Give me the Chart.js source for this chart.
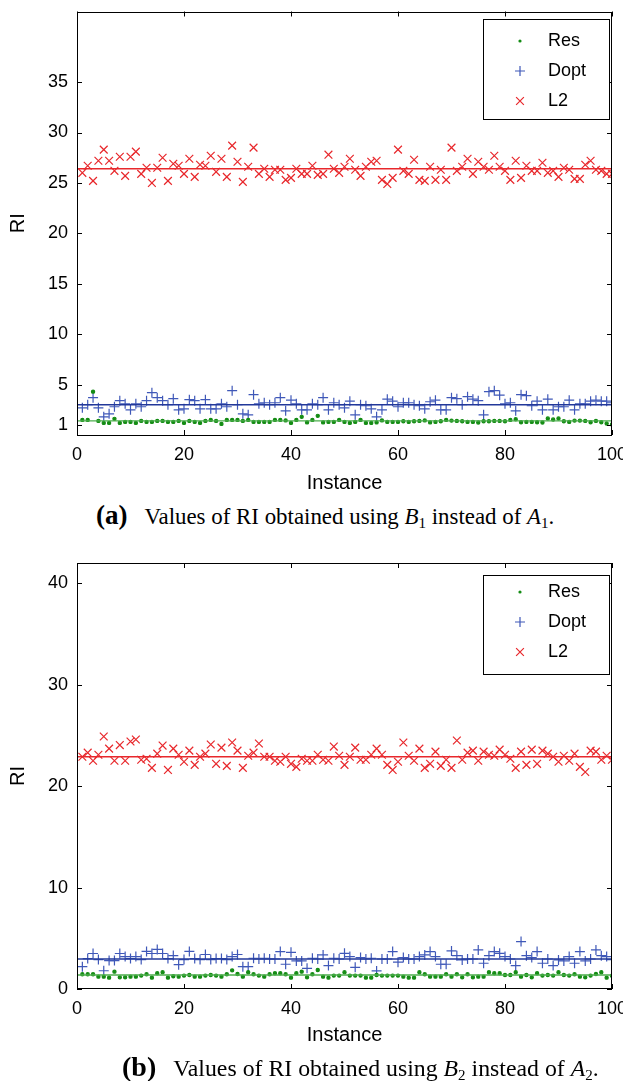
<!DOCTYPE html>
<html>
<head>
<meta charset="utf-8">
<script src="https://cdn.jsdelivr.net/npm/chart.js@4.4.1/dist/chart.umd.min.js"></script>
<style>
    html, body { margin: 0; padding: 0; background: #fff; overflow: hidden; }
    body { width: 623px; height: 1081px; position: relative; }
    .panel { position: absolute; left: 0; width: 640px; height: 500px; }
    .caption {
        position: absolute;
        font-family: "Liberation Serif", "Times New Roman", serif;
        line-height: 26px;
        color: #000;
        white-space: nowrap;
    }
    .caption b { margin-right: 17px; }
    .caption sub { font-size: 15px; vertical-align: -4px; line-height: 0; }
</style>
</head>
<body>
<div class="panel" style="top:0"><canvas id="chartA"></canvas></div>
<div class="caption" style="left:96px; top:502px; font-size:22.9px"><b style="font-size:27px">(a)</b>Values of RI obtained using <i>B</i><sub>1</sub> instead of <i>A</i><sub>1</sub>.</div>
<div class="panel" style="top:552px"><canvas id="chartB"></canvas></div>
<div class="caption" style="left:122px; top:1054px; font-size:23.8px"><b style="font-size:28px">(b)</b>Values of RI obtained using <i>B</i><sub>2</sub> instead of <i>A</i><sub>2</sub>.</div>

<script>
// Instances 1..100 on the x axis
const instances = Array.from({ length: 100 }, (_, i) => i + 1);
const seriesNames = ['Res', 'Dopt', 'L2'];
const xTicks = [0, 20, 40, 60, 80, 100];

// Panel (a): B1 instead of A1
const resA = [1.5, 1.5, 4.3, 1.4, 1.2, 1.2, 1.6, 1.2, 1.3, 1.3, 1.2, 1.4, 1.3, 1.3, 1.4, 1.4, 1.3, 1.3, 1.4, 1.2,
    1.4, 1.3, 1.2, 1.4, 1.5, 1.4, 1.1, 1.5, 1.5, 1.5, 1.4, 1.5, 1.3, 1.3, 1.3, 1.3, 1.5, 1.5, 1.45, 1.2,
    1.5, 1.8, 1.25, 1.5, 1.9, 1.25, 1.3, 1.3, 1.5, 1.3, 1.2, 1.3, 1.5, 1.2, 1.2, 1.25, 1.45, 1.3, 1.3, 1.3,
    1.37, 1.3, 1.37, 1.4, 1.45, 1.25, 1.3, 1.37, 1.5, 1.43, 1.4, 1.37, 1.3, 1.3, 1.24, 1.37, 1.37, 1.4, 1.4, 1.37,
    1.5, 1.56, 1.27, 1.3, 1.3, 1.27, 1.24, 1.63, 1.53, 1.63, 1.37, 1.3, 1.43, 1.43, 1.4, 1.27, 1.4, 1.27, 1.14, 1.05];
const doptA = [2.7, 3.0, 3.7, 2.7, 1.8, 2.1, 2.8, 3.4, 3.1, 2.5, 3.1, 2.8, 3.4, 4.2, 3.7, 3.4, 3.0, 3.6, 2.5, 2.6,
    3.5, 3.4, 2.6, 3.5, 2.6, 2.6, 3.1, 2.8, 4.4, 3.0, 2.1, 2.0, 4.0, 3.1, 3.2, 3.0, 3.2, 3.7, 2.4, 3.45,
    3.1, 2.5, 2.5, 3.1, 3.0, 3.7, 2.5, 3.2, 3.0, 2.7, 3.35, 2.0, 3.0, 2.9, 2.6, 1.8, 2.5, 3.55, 3.35, 2.8,
    3.2, 3.2, 3.0, 2.9, 2.6, 3.3, 3.45, 2.5, 2.5, 3.7, 3.6, 3.0, 3.8, 3.55, 3.4, 2.0, 4.3, 4.4, 3.95, 3.1,
    3.2, 2.4, 4.0, 3.9, 2.9, 3.35, 2.5, 3.55, 2.5, 2.8, 2.8, 3.45, 2.5, 3.1, 3.1, 3.35, 3.45, 3.35, 3.35, 3.2];
const l2A = [26.0, 26.7, 25.2, 27.2, 28.3, 27.2, 26.2, 27.6, 25.7, 27.6, 28.1, 25.9, 26.5, 25.0, 26.5, 27.5, 25.2, 26.9, 26.7, 25.9,
    27.4, 25.6, 26.8, 26.7, 27.7, 26.1, 27.4, 25.6, 28.7, 27.1, 25.1, 26.6, 28.5, 25.9, 26.4, 25.6, 26.3, 26.3, 25.3, 25.5,
    26.4, 25.9, 25.9, 26.7, 25.8, 25.9, 27.8, 26.4, 26.0, 26.6, 27.4, 26.3, 25.7, 26.6, 27.1, 27.2, 25.3, 24.9, 25.5, 28.3,
    26.2, 25.9, 27.3, 25.3, 25.2, 26.6, 25.3, 26.3, 25.3, 28.5, 26.2, 26.6, 27.4, 25.9, 27.1, 26.6, 26.3, 27.7, 26.6, 26.2,
    25.3, 27.2, 25.5, 26.7, 26.2, 26.2, 27.0, 26.0, 26.2, 25.6, 26.5, 26.3, 25.4, 25.4, 26.8, 27.2, 26.3, 26.2, 25.9, 25.9];
const meansA = [1.4, 3.0, 26.4];
const yTicksA = [1, 5, 10, 15, 20, 25, 30, 35];

// Panel (b): B2 instead of A2
const resB = [1.45, 1.45, 1.45, 1.22, 1.22, 1.12, 1.71, 1.15, 1.15, 1.22, 1.22, 1.32, 1.45, 1.12, 1.55, 1.65, 1.12, 1.25, 1.22, 1.32,
    1.38, 1.22, 1.22, 1.32, 1.38, 1.32, 1.22, 1.45, 1.84, 1.48, 1.22, 1.65, 1.45, 1.32, 1.22, 1.45, 1.55, 1.55, 1.45, 1.12,
    1.55, 1.71, 1.15, 1.45, 1.88, 1.22, 1.12, 1.32, 1.32, 1.65, 1.32, 1.32, 1.32, 1.12, 1.12, 1.38, 1.32, 1.32, 1.32, 1.32,
    1.22, 1.12, 1.12, 1.65, 1.45, 1.22, 1.22, 1.22, 1.45, 1.22, 1.45, 1.15, 1.45, 1.15, 1.22, 1.22, 1.65, 1.55, 1.55, 1.38,
    1.38, 1.65, 1.22, 1.38, 1.15, 1.55, 1.32, 1.38, 1.32, 1.65, 1.38, 1.32, 1.45, 1.22, 1.15, 1.32, 1.48, 1.65, 1.12, 1.3];
const doptB = [2.2, 3.0, 3.5, 2.9, 1.8, 2.8, 2.8, 3.5, 3.2, 3.0, 3.2, 2.9, 3.7, 3.5, 3.9, 3.5, 3.0, 3.3, 2.4, 2.9,
    3.7, 3.0, 2.9, 3.4, 2.9, 3.0, 3.0, 2.9, 3.2, 3.4, 2.2, 2.2, 3.03, 2.96, 3.03, 2.96, 2.96, 3.69, 2.44, 3.62,
    2.77, 2.77, 2.04, 3.03, 2.96, 3.36, 2.31, 3.03, 2.96, 3.52, 3.2, 2.14, 3.1, 2.96, 3.03, 1.78, 2.96, 2.96, 3.69, 2.64,
    3.1, 2.96, 2.96, 3.2, 3.36, 3.69, 3.2, 2.44, 2.44, 3.75, 3.29, 2.87, 2.96, 2.96, 3.85, 2.54, 3.29, 3.69, 3.52, 3.2,
    2.96, 2.31, 4.68, 3.29, 3.1, 3.69, 2.54, 2.96, 2.31, 2.87, 2.77, 3.2, 2.54, 3.69, 2.77, 2.96, 3.85, 3.29, 3.2, 2.9];
const l2B = [22.9, 23.3, 22.5, 23.1, 24.9, 23.7, 22.5, 24.05, 22.5, 24.4, 24.6, 22.6, 22.7, 21.8, 23.2, 24.0, 21.6, 23.7, 23.1, 22.4,
    23.5, 22.1, 22.9, 23.2, 24.1, 22.2, 23.8, 22.0, 24.3, 23.5, 21.8, 23.0, 23.3, 24.2, 22.9, 22.9, 22.5, 22.4, 22.9, 22.2,
    21.9, 22.7, 22.5, 22.5, 23.1, 22.6, 22.5, 23.9, 23.0, 22.1, 22.9, 23.8, 22.6, 22.6, 23.1, 23.7, 23.1, 22.1, 21.6, 22.4,
    24.3, 23.0, 22.5, 23.7, 21.8, 22.2, 23.4, 22.0, 22.6, 21.8, 24.5, 22.6, 23.3, 23.5, 22.5, 23.4, 23.1, 23.0, 23.6, 23.1,
    22.7, 21.8, 23.4, 22.1, 23.6, 22.2, 23.5, 23.2, 22.9, 22.4, 23.0, 22.5, 23.2, 21.9, 21.4, 23.5, 23.4, 22.6, 23.0, 22.6];
const meansB = [1.38, 2.96, 22.9];
const yTicksB = [0, 10, 20, 30, 40];

const FONT = 'Liberation Sans, Arial, Helvetica, sans-serif';
const markerColors = ['#148c14', '#3f58b8', '#e8282c'];
const lineColors = ['#4cae4c', '#22389a', '#e8282c'];
const pointStyles = ['circle', 'cross', 'crossRot'];
const pointSizes = [1.6, 5, 5.5];

// Draws the closed box and inward ticks on all four sides
const frameTicks = {
    id: 'frameTicks',
    afterDatasetsDraw(chart) {
        const { ctx, chartArea: a, scales } = chart;
        const len = 5;
        ctx.save();
        ctx.strokeStyle = '#000';
        ctx.lineWidth = 1;
        ctx.strokeRect(Math.round(a.left) + 0.5, Math.round(a.top) + 0.5,
            Math.round(a.right - a.left) - 1, Math.round(a.bottom - a.top) - 1);
        ctx.beginPath();
        scales.x.ticks.forEach(t => {
            const px = Math.round(scales.x.getPixelForValue(t.value)) + 0.5;
            ctx.moveTo(px, a.bottom); ctx.lineTo(px, a.bottom - len);
            ctx.moveTo(px, a.top); ctx.lineTo(px, a.top + len);
        });
        scales.y.ticks.forEach(t => {
            const py = Math.round(scales.y.getPixelForValue(t.value)) + 0.5;
            ctx.moveTo(a.left, py); ctx.lineTo(a.left + len, py);
            ctx.moveTo(a.right, py); ctx.lineTo(a.right - len, py);
        });
        ctx.stroke();
        ctx.restore();
    }
};

function drawMarker(ctx, style, x, y, r, color) {
    ctx.save();
    ctx.strokeStyle = color;
    ctx.fillStyle = color;
    ctx.lineWidth = 1.2;
    ctx.beginPath();
    if (style === 'circle') {
        ctx.arc(x, y, r, 0, Math.PI * 2);
        ctx.fill();
    } else if (style === 'cross') {
        ctx.moveTo(x - r, y); ctx.lineTo(x + r, y);
        ctx.moveTo(x, y - r); ctx.lineTo(x, y + r);
        ctx.stroke();
    } else {
        const d = r * Math.SQRT1_2;
        ctx.moveTo(x - d, y - d); ctx.lineTo(x + d, y + d);
        ctx.moveTo(x - d, y + d); ctx.lineTo(x + d, y - d);
        ctx.stroke();
    }
    ctx.restore();
}

// Legend box inside the plot, top right
const boxLegend = {
    id: 'boxLegend',
    afterDatasetsDraw(chart, args, opts) {
        const { ctx, chartArea: a } = chart;
        const x0 = Math.round(a.right - opts.right - opts.width);
        const y0 = Math.round(a.top + opts.top);
        ctx.save();
        ctx.fillStyle = '#fff';
        ctx.fillRect(x0, y0, opts.width, opts.height);
        ctx.strokeStyle = '#000';
        ctx.lineWidth = 1;
        ctx.strokeRect(x0 + 0.5, y0 + 0.5, opts.width, opts.height);
        const items = chart.data.datasets.filter(d => d.legendItem);
        items.forEach((ds, i) => {
            const cy = y0 + opts.firstRow + i * opts.rowGap;
            drawMarker(ctx, ds.pointStyle, x0 + opts.markerX, cy, ds.pointRadius, ds.borderColor);
            ctx.fillStyle = '#000';
            ctx.font = '18px ' + FONT;
            ctx.textAlign = 'left';
            ctx.textBaseline = 'middle';
            ctx.fillText(ds.label, x0 + opts.textX, cy);
        });
        ctx.restore();
    }
};

function buildPanel(canvasId, series, means, yTicks, legendOpts, topPad, xAxisHeight) {
    const datasets = [];
    series.forEach((values, k) => {
        datasets.push({
            label: seriesNames[k],
            legendItem: true,
            data: instances.map((x, i) => ({ x: x, y: values[i] })),
            pointStyle: pointStyles[k],
            pointRadius: pointSizes[k],
            pointBorderWidth: 1.2,
            borderColor: markerColors[k],
            backgroundColor: markerColors[k],
            showLine: false,
            order: 1
        });
    });
    means.forEach((m, k) => {
        datasets.push({
            label: seriesNames[k] + ' mean',
            data: [{ x: xTicks[0], y: m }, { x: xTicks[xTicks.length - 1], y: m }],
            showLine: true,
            borderColor: lineColors[k],
            borderWidth: 1.4,
            pointRadius: 0,
            order: 0
        });
    });

    return new Chart(document.getElementById(canvasId), {
        type: 'scatter',
        data: { datasets },
        plugins: [frameTicks, boxLegend],
        options: {
            responsive: true,
            maintainAspectRatio: false,
            animation: false,
            layout: { padding: { top: topPad, right: 28, left: 0, bottom: 0 } },
            plugins: {
                legend: { display: false },
                tooltip: { enabled: false },
                boxLegend: legendOpts
            },
            scales: {
                x: {
                    type: 'linear',
                    min: xTicks[0],
                    max: xTicks[xTicks.length - 1],
                    afterBuildTicks: (scale) => { scale.ticks = xTicks.map(v => ({ value: v })); },
                    afterFit: (scale) => {
                        scale.height = xAxisHeight;
                        scale.paddingLeft = 0;
                        scale.paddingRight = 0;
                    },
                    grid: { display: false, drawTicks: false },
                    border: { display: false },
                    ticks: { color: '#000', padding: 9, font: { family: FONT, size: 18 } },
                    title: {
                        display: true,
                        text: 'Instance',
                        color: '#000',
                        font: { family: FONT, size: 20 },
                        padding: { top: 0, bottom: 5 }
                    }
                },
                y: {
                    type: 'linear',
                    min: 0,
                    max: 42,
                    afterBuildTicks: (scale) => { scale.ticks = yTicks.map(v => ({ value: v })); },
                    afterFit: (scale) => {
                        scale.width = 77;
                        scale.paddingTop = 0;
                        scale.paddingBottom = 0;
                    },
                    grid: { display: false, drawTicks: false },
                    border: { display: false },
                    ticks: { color: '#000', padding: 9, font: { family: FONT, size: 18 } },
                    title: {
                        display: true,
                        text: 'RI',
                        color: '#000',
                        font: { family: FONT, size: 20 },
                        padding: { top: 6, bottom: 0 }
                    }
                }
            }
        }
    });
}

document.addEventListener('DOMContentLoaded', function () {
    buildPanel('chartA', [resA, doptA, l2A], meansA, yTicksA,
        { right: 3, top: 7, width: 126, height: 100, firstRow: 22, rowGap: 30, markerX: 37, textX: 65 }, 11.5, 65);
    buildPanel('chartB', [resB, doptB, l2B], meansB, yTicksB,
        { right: 3, top: 12, width: 126, height: 99, firstRow: 17, rowGap: 30, markerX: 37, textX: 65 }, 11, 63);
});
</script>
</body>
</html>
